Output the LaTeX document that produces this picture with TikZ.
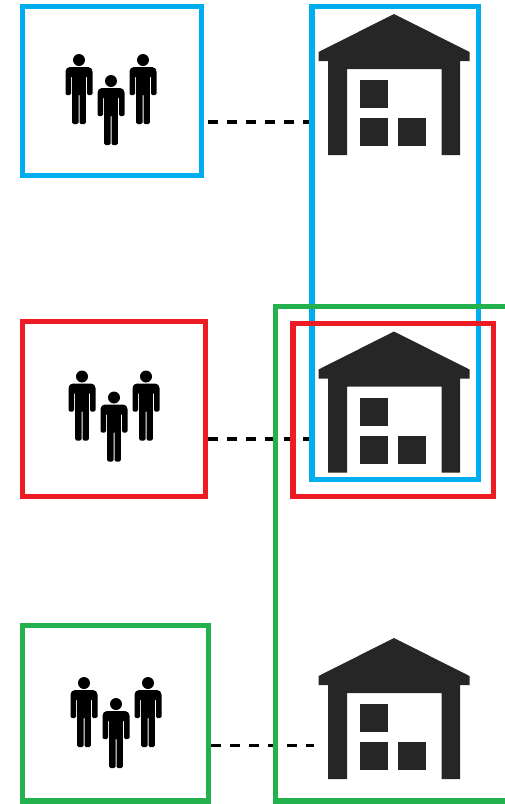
\documentclass[tikz,border=0pt]{standalone}
\usepackage{tikz}
\usetikzlibrary{calc}
\definecolor{frameblue}{HTML}{00ADEF}
\definecolor{framered}{HTML}{ED1C24}
\definecolor{framegreen}{HTML}{22B14C}
\definecolor{housegray}{HTML}{262626}
\tikzset{
  frame/.style={draw=#1,line width=5.4pt,inner sep=0pt},
  link/.style={draw=black,line width=3.2pt,dash pattern=on 9.5pt off 9.5pt},
  person/.pic={
    \fill[black] (0,0) circle (6);
    \fill[black,rounded corners=4.5pt] (0,7)--(13.5,7)[rounded corners=1.5pt]--(13.5,35)--(8,35)[sharp corners]
      --(8,17)--(6.9,17)[rounded corners=1.5pt]--(6.9,64)--(0.5,64)[sharp corners]--(0.5,35)--(-0.5,35)
      [rounded corners=1.5pt]--(-0.5,64)--(-6.9,64)[sharp corners]--(-6.9,17)--(-8,17)
      [rounded corners=1.5pt]--(-8,35)--(-13.5,35)[rounded corners=4.5pt]--(-13.5,7)--cycle;
  },
  crowd/.pic={
    \path (0,0) pic {person} (32,21) pic {person} (64,0) pic {person};
  },
  warehouse/.pic={
    \fill[housegray] (0,0)--(75.5,38)--(75.5,47)--(66,47)--(66,141)--(47.5,141)--(47.5,55)
      --(-47,55)--(-47,141)--(-66,141)--(-66,47)--(-75.5,47)--(-75.5,38)--cycle;
    \foreach \bx/\by in {-34/66,-34/104,4/104}
      \fill[housegray] (\bx,\by) rectangle ++(28,28);
  }
}
\begin{document}
\begin{tikzpicture}[x=1pt,y=-1pt]
\clip (0,0) rectangle (505,804);
\fill[white] (0,0) rectangle (505,804);
% warehouses
\pic at (394,14) {warehouse};
\pic at (394,331.5) {warehouse};
\pic at (394,638) {warehouse};
% user groups
\pic at (79,60) {crowd};
\pic at (82,376.5) {crowd};
\pic at (84,683) {crowd};
% left boxes
\node[frame=frameblue,minimum width=179pt,minimum height=169pt] (usersA) at (112,91) {};
\node[frame=framered,minimum width=183pt,minimum height=175pt] (usersB) at (114,409) {};
\node[frame=framegreen,minimum width=186pt,minimum height=175.5pt] (usersC) at (115.5,713.25) {};
% ends of the links
\coordinate (portA) at (310,122);
\coordinate (portB) at (310,439);
\coordinate (portC) at (314,745.5);
\draw[link,shorten <=4pt] (usersA.east |- portA) -- (portA);
\draw[link] (usersB.east |- portB) -- (portB);
\draw[link] (usersC.east |- portC) -- (portC);
% warehouse groups
\node[frame=frameblue,minimum width=166.5pt,minimum height=473pt] (zoneA) at (395.25,243) {};
\node[frame=framegreen,minimum width=244.5pt,minimum height=494.5pt] (zoneC) at (397.75,553.75) {};
\node[frame=framered,minimum width=200.5pt,minimum height=173pt] (zoneB) at (393.25,410) {};
\end{tikzpicture}
\end{document}
